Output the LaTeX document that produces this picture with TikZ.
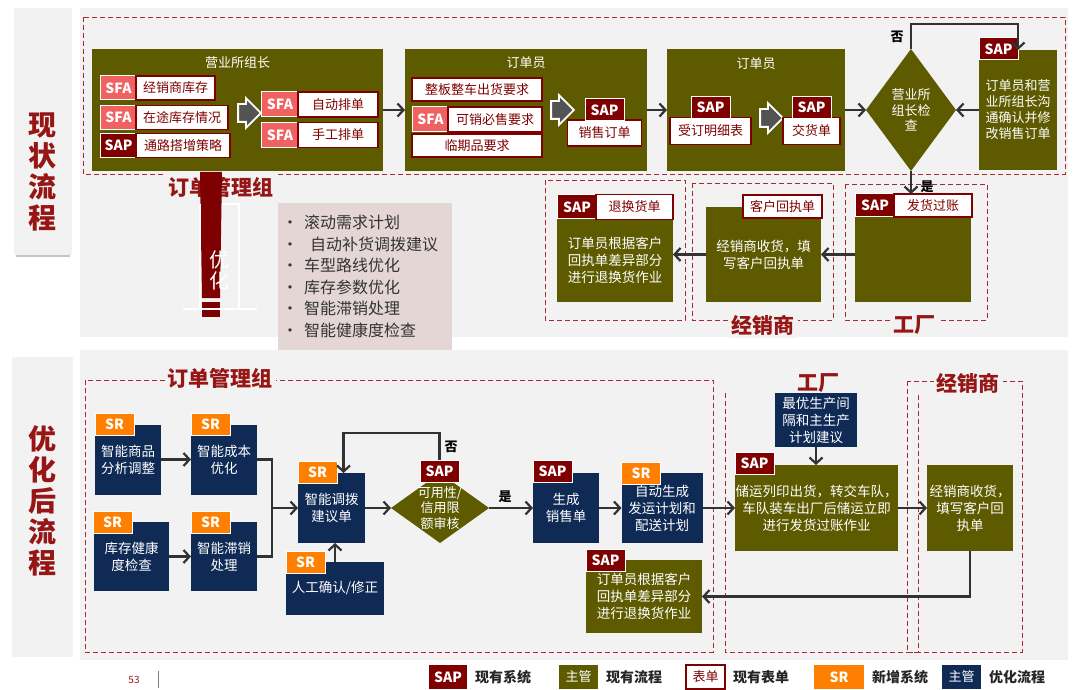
\documentclass[tikz,border=0pt]{standalone}
\usepackage{fontspec}
\setmainfont{Noto Sans CJK SC}
\usepackage{tikz}
\usetikzlibrary{shapes.geometric, shapes.arrows, arrows.meta, positioning, calc}

\definecolor{olivebox}{RGB}{94,90,0}
\definecolor{navybox}{RGB}{15,42,85}
\definecolor{sapred}{RGB}{127,0,0}
\definecolor{sfapink}{RGB}{240,98,98}
\definecolor{srorange}{RGB}{255,128,0}
\definecolor{titlered}{RGB}{150,22,22}
\definecolor{zonered}{RGB}{170,40,50}
\definecolor{panelgray}{RGB}{242,242,242}
\definecolor{planpink}{RGB}{229,214,214}
\definecolor{arrowgray}{RGB}{50,50,50}

\newcommand{\boxfont}{\fontsize{13.5}{17}\selectfont}
\newcommand{\tagfont}{\bfseries\fontsize{14}{14}\selectfont}
\newcommand{\formfont}{\fontsize{13}{15}\selectfont}
\newcommand{\zonefont}{\bfseries\fontsize{21}{22}\selectfont}
\newcommand{\sidefont}{\bfseries\fontsize{28}{31}\selectfont}

\begin{document}
\begin{tikzpicture}[
  x=1pt, y=-1pt,
  every node/.style={inner sep=0pt, outer sep=0pt},
  obox/.style={fill=olivebox, text=white, font=\boxfont, align=center},
  nbox/.style={fill=navybox, text=white, font=\boxfont, align=center},
  tagbox/.style={draw=white, line width=1pt, text=white, font=\tagfont,
                 minimum width=39pt, minimum height=22pt},
  saptag/.style={tagbox, fill=sapred},
  sfatag/.style={tagbox, fill=sfapink, minimum width=37pt, minimum height=24pt},
  srtag/.style={tagbox, fill=srorange},
  form/.style={fill=white, draw=sapred, line width=1.2pt, text=sapred,
               font=\formfont, minimum height=24pt},
  bigarrow/.style={single arrow, single arrow head extend=6pt, fill=gray!65!black,
                   draw=white, line width=1.8pt, inner xsep=6pt, inner ysep=8pt},
  arrow/.style={-{Straight Barb[length=6pt, width=13pt]}, line width=2.2pt, arrowgray},
  joint/.style={line width=2.2pt, arrowgray},
  zone/.style={draw=zonered, dash pattern=on 5pt off 3pt, line width=0.9pt},
  zonetitle/.style={fill=panelgray, text=titlered, font=\zonefont, inner sep=3pt},
  grptitle/.style={text=white, font=\fontsize{13}{15}\selectfont},
  decision/.style={diamond, fill=olivebox},
  flowtext/.style={text=white, font=\fontsize{13}{15.5}\selectfont, align=center},
  yesno/.style={font=\bfseries\fontsize{13}{13}\selectfont, text=black},
  legendtext/.style={font=\bfseries\fontsize{14}{14}\selectfont, text=black!85},
]
\useasboundingbox (0,0) rectangle (1080,690);
\fill[white] (0,0) rectangle (1080,690);

% Side labels
\fill[panelgray] (14,8) rectangle (72,255);
\draw[gray!45, line width=2pt] (16,256) -- (70,256);
\node[text=titlered, font=\sidefont, align=center] (curlbl) at (42,172) {现\\状\\流\\程};
\fill[panelgray] (12,357) rectangle (73,657);
\node[text=titlered, font=\sidefont, align=center] (newlbl) at (42,501) {优\\化\\后\\流\\程};

% Background panels
\fill[panelgray] (80,8) rectangle (1068,337);
\fill[panelgray] (80,350) rectangle (1068,660);

%% ---------------- Current flow ----------------
\draw[zone] (83,17) rectangle (1065,174);

% Group 1 — 营业所组长
\node[obox, minimum width=291pt, minimum height=122pt] (grp1) at (237.5,110) {};
\node[grptitle, below=8pt of grp1.north] (grp1t) {营业所组长};
\node[sfatag] (s1) at (118.5,88) {SFA};
\node[form, right=-1pt of s1, minimum width=79pt] (f1) {经销商库存};
\node[sfatag] (s2) at (118.5,117.5) {SFA};
\node[form, right=-1pt of s2, minimum width=92pt] (f2) {在途库存情况};
\node[sfatag, fill=sapred] (s3) at (118.5,145.5) {SAP};
\node[form, right=-1pt of s3, minimum width=94pt] (f3) {通路搭增策略};
\node[bigarrow] (ba1) at (245,113) {};
\node[sfatag, minimum width=38pt, minimum height=25pt] (s4) at (280,104.5) {SFA};
\node[form, right=-1pt of s4, minimum width=80pt, minimum height=25pt] (f4) {自动排单};
\node[sfatag, minimum width=38pt, minimum height=25pt] (s5) at (280,135) {SFA};
\node[form, right=-1pt of s5, minimum width=80pt, minimum height=25pt] (f5) {手工排单};

% Group 2 — 订单员
\node[obox, minimum width=242pt, minimum height=122pt] (grp2) at (526,110) {};
\node[grptitle, below=8pt of grp2.north] (grp2t) {订单员};
\node[form, minimum width=130pt, minimum height=23pt] (f6) at (477,89.5) {整板整车出货要求};
\node[sfatag, minimum height=25pt] (s7) at (430.5,119.5) {SFA};
\node[form, right=-1pt of s7, minimum width=94pt, minimum height=25pt] (f7) {可销必售要求};
\node[form, minimum width=130pt, minimum height=23pt] (f8) at (477,145.5) {临期品要求};
\node[bigarrow] (ba2) at (558,110) {};
\node[form, minimum width=74pt, minimum height=26pt] (f9) at (604.5,133) {销售订单};
\node[saptag, above=-1pt of f9] (t9) {SAP};

% Group 3 — 订单员
\node[obox, minimum width=178pt, minimum height=122pt] (grp3) at (756,110) {};
\node[grptitle, below=9pt of grp3.north] (grp3t) {订单员};
\node[form, minimum width=81pt, minimum height=27pt] (f10) at (710.5,131) {受订明细表};
\node[saptag, above=-1pt of f10] (t10) {SAP};
\node[bigarrow] (ba3) at (767,118) {};
\node[form, minimum width=57pt, minimum height=27pt] (f11) at (811.5,131) {交货单};
\node[saptag, above=-1pt of f11] (t11) {SAP};

% Check and rework
\node[decision, minimum width=90pt, minimum height=122pt] (chk) at (911,110) {};
\node[flowtext] (chkt) at (chk) {营业所\\组长检\\查};
\node[obox, font=\fontsize{13}{16}\selectfont, minimum width=78pt, minimum height=120pt] (fix) at (1018,110)
  {订单员和营\\业所组长沟\\通确认并修\\改销售订单};
\node[saptag, anchor=south west, yshift=-10pt] (tfix) at (fix.north west) {SAP};

% Second row
\node[obox, minimum width=116pt, minimum height=83pt] (rt1) at (615,260.5)
  {订单员根据客户\\回执单差异部分\\进行退换货作业};
\node[saptag, anchor=south west, minimum width=40pt, minimum height=24pt] (t12) at (rt1.north west) {SAP};
\node[form, right=-1pt of t12, minimum width=77pt, minimum height=25pt] (f12) {退换货单};
\node[obox, minimum width=115pt, minimum height=95pt] (rt2) at (763.5,254.5)
  {经销商收货，填\\写客户回执单};
\node[form, minimum width=79pt, minimum height=23pt] (f13) at (782.5,206.5) {客户回执单};
\node[obox, minimum width=116pt, minimum height=85pt] (rt3) at (913,259.5) {};
\node[saptag, anchor=south west, minimum width=40pt, minimum height=23pt] (t14) at (rt3.north west) {SAP};
\node[form, right=-1pt of t14, minimum width=78pt, minimum height=23pt] (f14) {发货过账};

\draw[zone] (545,180) rectangle (685,320);
\draw[zone] (692,183) rectangle (833,320);
\draw[zone] (845,184) rectangle (987,320);
\node[zonetitle] (dl1) at (763,325) {经销商};
\node[zonetitle] (fc1) at (914,325) {工厂};

% Arrows
\draw[arrow] (grp1) -- (grp2);
\draw[arrow] (grp2) -- (grp3);
\draw[arrow] (grp3) -- (chk);
\draw[arrow] (fix) -- (chk);
\draw[arrow] (chk.north) -- ++(0,-25) -| (fix.north);
\node[yesno] (no1) at (897,37) {否};
\draw[arrow] (chk.south) -- (chk.south |- f14.north);
\node[yesno] (yes1) at (927,187) {是};
\draw[arrow] (rt3.west |- rt2.east) -- (rt2.east);
\draw[arrow] (rt2.west) -- (rt2.west -| rt1.east);

% Order group hint
\node[zonetitle] (omg1) at (221,187) {订单管理组};
\fill[sapred] (200,172) -- (222,172) -- (220,298) -- (202,298) -- cycle;
\fill[sapred] (202,302) rectangle (220,317);
\draw[white, line width=1.5pt] (222,204) -- (239,204) -- (239,308);
\draw[white, line width=1.2pt] (200,204) -- (200,308);
\draw[white, line width=1.5pt] (183,309) -- (257,309);
\node[text=white, font=\fontsize{20}{21}\selectfont, align=center] (optz) at (219,270) {优\\化};
\node[fill=planpink, minimum width=174pt, minimum height=147pt, text width=166pt, align=left,
      font=\fontsize{16}{21.5}\selectfont, text=black!80] (plan) at (365,276.5)
  {\makebox[22pt][l]{\textbullet}滚动需求计划\\
   \makebox[22pt][l]{\textbullet}\hspace{6pt}自动补货调拨建议\\
   \makebox[22pt][l]{\textbullet}车型路线优化\\
   \makebox[22pt][l]{\textbullet}库存参数优化\\
   \makebox[22pt][l]{\textbullet}智能滞销处理\\
   \makebox[22pt][l]{\textbullet}智能健康度检查};

%% ---------------- Optimised flow ----------------
\draw[zone] (85,380) rectangle (713,652);
\draw[zone] (725,393) -- (725,652) -- (918,652) -- (918,393);
\draw[zone] (907,381) rectangle (1022,652);
\node[zonetitle] (omg2) at (220,378) {订单管理组};
\node[zonetitle] (fc2) at (818,383) {工厂};
\node[zonetitle] (dl2) at (968,383) {经销商};

% Order group
\node[nbox, minimum width=66pt, minimum height=70pt] (n1) at (128,459.5) {智能商品\\分析调整};
\node[srtag, anchor=south west, yshift=-11pt] (r1) at (n1.north west) {SR};
\node[nbox, minimum width=66pt, minimum height=70pt] (n2) at (224,459.5) {智能成本\\优化};
\node[srtag, anchor=south west, yshift=-11pt] (r2) at (n2.north west) {SR};
\node[nbox, minimum width=75pt, minimum height=69pt] (n3) at (131.5,556.5) {库存健康\\度检查};
\node[srtag, anchor=south west, yshift=-11pt, xshift=-1pt] (r3) at (n3.north west) {SR};
\node[nbox, minimum width=66pt, minimum height=69pt] (n4) at (224,556.5) {智能滞销\\处理};
\node[srtag, anchor=south west, yshift=-11pt] (r4) at (n4.north west) {SR};
\node[nbox, minimum width=67pt, minimum height=70pt] (n5) at (331.5,508) {智能调拨\\建议单};
\node[srtag, anchor=south west, yshift=-10pt] (r5) at (n5.north west) {SR};
\node[nbox, minimum width=98pt, minimum height=53pt] (n6) at (335,588.5) {人工确认/修正};
\node[srtag, anchor=south west, yshift=-11pt] (r6) at (n6.north west) {SR};
\node[decision, minimum width=98pt, minimum height=70pt] (d2) at (440,508) {};
\node[flowtext] (d2t) at (d2) {可用性/\\信用限\\额审核};
\node[saptag] (t2) at (439.5,471) {SAP};
\node[nbox, minimum width=66pt, minimum height=70pt] (n7) at (566,508) {生成\\销售单};
\node[saptag, anchor=south west, yshift=-9pt] (t7) at (n7.north west) {SAP};
\node[nbox, minimum width=81pt, minimum height=70pt] (n8) at (662,508) {自动生成\\发运计划和\\配送计划};
\node[srtag, anchor=south west, yshift=-11pt] (r8) at (n8.north west) {SR};
\node[obox, minimum width=116pt, minimum height=73pt] (n12) at (644,596.5)
  {订单员根据客户\\回执单差异部分\\进行退换货作业};
\node[saptag, anchor=south west, yshift=-11pt] (t12b) at (n12.north west) {SAP};

% Factory and dealer
\node[nbox, minimum width=82pt, minimum height=54pt] (n9) at (816,420) {最优生产间\\隔和主生产\\计划建议};
\node[obox, minimum width=163pt, minimum height=86pt] (n10) at (816.5,508)
  {储运列印出货，转交车队，\\车队装车出厂后储运立即\\进行发货过账作业};
\node[saptag, anchor=south west, yshift=-9pt] (t10b) at (n10.north west) {SAP};
\node[obox, minimum width=86pt, minimum height=86pt] (n11) at (970,508)
  {经销商收货，\\填写客户回\\执单};

% Arrows
\coordinate (mrg) at (272,508);
\draw[arrow] (n1) -- (n2);
\draw[arrow] (n3) -- (n4);
\draw[joint] (n2.east) -| (mrg);
\draw[joint] (n4.east) -| (mrg);
\draw[arrow] (mrg) -- (n5.west);
\draw[arrow] (n6.north) -- (n6.north |- n5.south);
\draw[arrow] (n5) -- (d2);
\draw[arrow] (t2.north) -- ++(0,-27) -| ($(n5.north)+(12,0)$);
\node[yesno] (no2) at (451,447) {否};
\draw[arrow] (d2) -- (n7);
\node[yesno] (yes2) at (505,497) {是};
\draw[arrow] (n7) -- (n8);
\draw[arrow] (n8.east) -- (n8.east -| n10.west);
\draw[arrow] (n9.south) -- (n9.south |- n10.north);
\draw[arrow] (n10) -- (n11);
\draw[arrow] (n11.south) |- (n12.east);

%% ---------------- Legend ----------------
\node[text=titlered, font=\fontsize{10}{10}\selectfont] (pgno) at (134,680) {53};
\draw[gray] (158,671) -- (158,688);
\node[saptag, draw=none, minimum width=38pt, minimum height=24pt] (lg1) at (448,677) {SAP};
\node[legendtext, right=8pt of lg1] (lg1t) {现有系统};
\node[obox, font=\fontsize{13}{13}\selectfont, minimum width=39pt, minimum height=24pt] (lg2) at (578.5,677) {主管};
\node[legendtext, right=8pt of lg2] (lg2t) {现有流程};
\node[form, minimum width=39pt, minimum height=24pt] (lg3) at (705.5,677) {表单};
\node[legendtext, right=8pt of lg3] (lg3t) {现有表单};
\node[srtag, draw=none, minimum width=50pt, minimum height=24pt] (lg4) at (839,677) {SR};
\node[legendtext, right=8pt of lg4] (lg4t) {新增系统};
\node[nbox, font=\fontsize{13}{13}\selectfont, minimum width=39pt, minimum height=24pt] (lg5) at (961.5,677) {主管};
\node[legendtext, right=8pt of lg5] (lg5t) {优化流程};

\end{tikzpicture}
\end{document}
